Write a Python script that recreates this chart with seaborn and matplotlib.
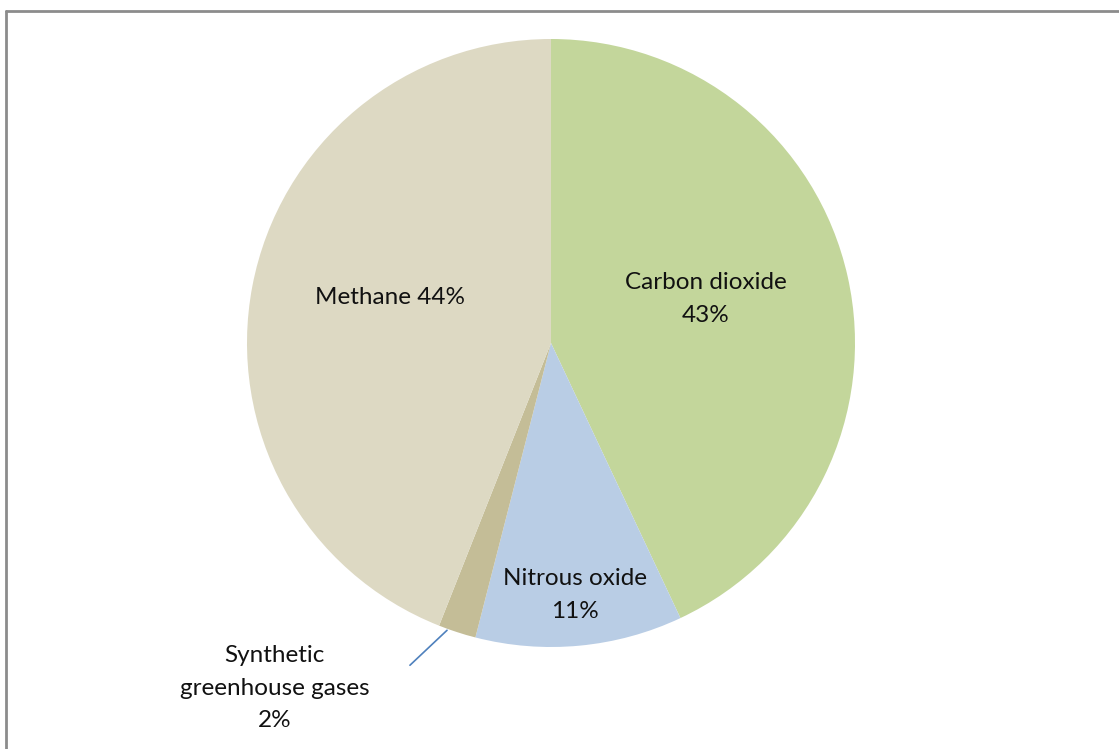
import matplotlib
matplotlib.use("Agg")
import matplotlib.pyplot as plt
import seaborn as sns
from matplotlib.lines import Line2D

# Data
gases = ["Carbon dioxide", "Nitrous oxide", "Synthetic\ngreenhouse gases", "Methane"]
shares = [43, 11, 2, 44]
label_texts = ["Carbon dioxide\n43%", "Nitrous oxide\n11%", "Synthetic\ngreenhouse gases\n2%", "Methane 44%"]
colors = ["#C3D69B", "#B9CDE5", "#C4BD97", "#DDD9C3"]

sns.set_theme(style="white")
plt.rcParams['font.family'] = ['Lato', 'DejaVu Sans']

W, H = 1119, 749
fig = plt.figure(figsize=(W / 100, H / 100), dpi=100)
fig.patch.set_facecolor("white")

cx, cy, r = 551, 343, 304
ax = fig.add_axes([(cx - r) / W, (H - cy - r) / H, 2 * r / W, 2 * r / H])
ax.pie(shares, colors=colors, startangle=90, counterclock=False,
       radius=1, wedgeprops=dict(linewidth=0))
ax.set_xlim(-1, 1)
ax.set_ylim(-1, 1)
ax.set_aspect("equal")
ax.axis("off")

# label positions (data units relative to pie centre)
label_pos = [(0.51, 0.145), (0.08, -0.83), (-0.91, -1.135), (-0.53, 0.15)]
for txt, (x, y) in zip(label_texts, label_pos):
    ax.text(x, y, txt, ha="center", va="center", fontsize=17.5, color="#111111",
            linespacing=1.7, clip_on=False)

# leader line for the small slice
ax.add_line(Line2D([-0.342, -0.464], [-0.945, -1.06], color="#4F81BD",
                   linewidth=1.2, clip_on=False))

# partial frame (top and left border)
fig.add_artist(Line2D([6 / W, 1], [1 - 11 / H, 1 - 11 / H], color="#8c8c8c",
                      linewidth=2, transform=fig.transFigure))
fig.add_artist(Line2D([6 / W, 6 / W], [0, 1 - 11 / H], color="#8c8c8c",
                      linewidth=2, transform=fig.transFigure))

fig.savefig("out.png", dpi=100, facecolor="white")
